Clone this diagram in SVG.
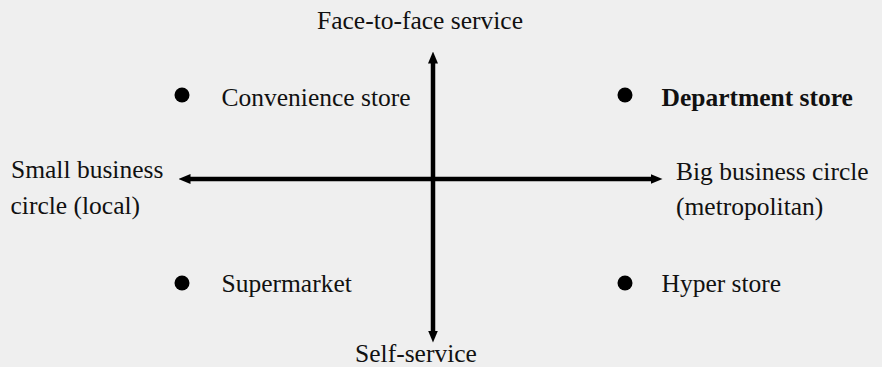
<svg xmlns="http://www.w3.org/2000/svg" width="882" height="367" viewBox="0 0 882 367">
<style>
  .t { font-family: "Liberation Serif", "Times New Roman", serif; font-size: 25.5px; fill: #111; }
  .b { font-weight: bold; }
  .axis { stroke: #000; stroke-width: 4.5; fill: none; }
  .dot { fill: #000; }
</style>
<defs>
  <marker id="ah" markerUnits="userSpaceOnUse" markerWidth="12" markerHeight="11" viewBox="0 0 12 11" refX="0.5" refY="5.5" orient="auto-start-reverse">
    <path d="M0,0.5 L12,5.5 L0,10.5 Z" fill="#000"/>
  </marker>
</defs>
<rect width="882" height="367" fill="#efefef"/>
<g id="connectors">
  <line class="axis" x1="433" y1="63" x2="433" y2="331" marker-start="url(#ah)" marker-end="url(#ah)"/>
  <line class="axis" x1="190" y1="179" x2="651" y2="179" marker-start="url(#ah)" marker-end="url(#ah)"/>
</g>
<g id="top-label"><text class="t" x="317" y="29">Face-to-face service</text></g>
<g id="bottom-label"><text class="t" x="416" y="362" text-anchor="middle">Self-service</text></g>
<g id="left-label">
  <text class="t" x="11" y="178">Small business</text>
  <text class="t" x="10.5" y="214">circle (local)</text>
</g>
<g id="right-label">
  <text class="t" x="676" y="180">Big business circle</text>
  <text class="t" x="676" y="215">(metropolitan)</text>
</g>
<g id="convenience-store">
  <circle class="dot" cx="182" cy="95" r="7.5"/>
  <text class="t" x="221.5" y="106">Convenience store</text>
</g>
<g id="department-store">
  <circle class="dot" cx="625" cy="95" r="7.5"/>
  <text class="t b" x="661.5" y="106">Department store</text>
</g>
<g id="supermarket">
  <circle class="dot" cx="182" cy="283" r="7.5"/>
  <text class="t" x="221.5" y="292">Supermarket</text>
</g>
<g id="hyper-store">
  <circle class="dot" cx="625" cy="283" r="7.5"/>
  <text class="t" x="661.5" y="292">Hyper store</text>
</g>
</svg>
